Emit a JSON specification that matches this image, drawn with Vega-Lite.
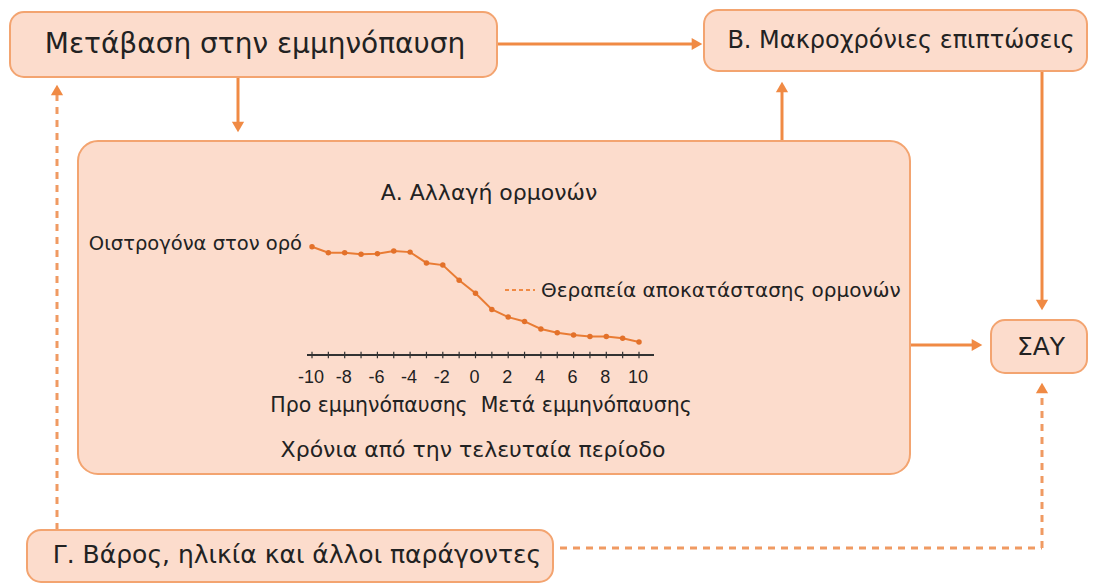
{
  "$schema": "https://vega.github.io/schema/vega-lite/v6.json",
  "width": 1094,
  "height": 586,
  "autosize": {"type": "none"},
  "padding": 0,
  "background": "white",
  "config": {"view": {"stroke": null}, "font": "DejaVu Sans", "text": {"font": "DejaVu Sans", "color": "#222222"}},
  "datasets": {
    "boxes": [
      {"name": "transition", "x1": 10, "x2": 497, "y1": 12, "y2": 77},
      {"name": "longterm", "x1": 704, "x2": 1087, "y1": 10, "y2": 71},
      {"name": "cvd", "x1": 991, "x2": 1087, "y1": 320, "y2": 373},
      {"name": "factors", "x1": 27, "x2": 553, "y1": 530, "y2": 582}
    ],
    "bigbox": [
      {"name": "hormones", "x1": 78, "x2": 910, "y1": 141, "y2": 474}
    ],
    "solidLinks": [
      {"from": "transition", "to": "longterm", "x1": 497, "y1": 44, "x2": 692, "y2": 44},
      {"from": "transition", "to": "hormones", "x1": 238, "y1": 77, "x2": 238, "y2": 122},
      {"from": "hormones", "to": "longterm", "x1": 782, "y1": 141, "x2": 782, "y2": 92},
      {"from": "longterm", "to": "cvd", "x1": 1042, "y1": 71, "x2": 1042, "y2": 300},
      {"from": "hormones", "to": "cvd", "x1": 910, "y1": 345, "x2": 972, "y2": 345}
    ],
    "dashedLinks": [
      {"from": "factors", "to": "transition", "x1": 57, "y1": 530, "x2": 57, "y2": 95},
      {"from": "factors", "to": "cvd", "x1": 560, "y1": 548, "x2": 1042, "y2": 548},
      {"from": "factors", "to": "cvd", "x1": 1042, "y1": 548, "x2": 1042, "y2": 393}
    ],
    "heads": [
      {"to": "longterm", "x": 697, "y": 44, "dir": "right"},
      {"to": "hormones", "x": 238, "y": 127, "dir": "down"},
      {"to": "longterm", "x": 782, "y": 87, "dir": "up"},
      {"to": "cvd", "x": 1042, "y": 305, "dir": "down"},
      {"to": "cvd", "x": 977, "y": 345, "dir": "right"},
      {"to": "transition", "x": 57, "y": 90, "dir": "up"},
      {"to": "cvd", "x": 1042, "y": 388, "dir": "up"}
    ],
    "estrogen": [
      {"year": -10, "level": 100},
      {"year": -9, "level": 94.5},
      {"year": -8, "level": 94.5},
      {"year": -7, "level": 93},
      {"year": -6, "level": 93.5},
      {"year": -5, "level": 96},
      {"year": -4, "level": 95},
      {"year": -3, "level": 85},
      {"year": -2, "level": 83},
      {"year": -1, "level": 69},
      {"year": 0, "level": 57},
      {"year": 1, "level": 42},
      {"year": 2, "level": 35},
      {"year": 3, "level": 31},
      {"year": 4, "level": 24},
      {"year": 5, "level": 20.5},
      {"year": 6, "level": 18.5},
      {"year": 7, "level": 17},
      {"year": 8, "level": 17},
      {"year": 9, "level": 15.5},
      {"year": 10, "level": 12}
    ]
  },
  "layer": [
    {
      "layer": [
        {
          "data": {"name": "solidLinks"},
          "mark": {"type": "rule", "color": "#f08a44", "strokeWidth": 3},
          "encoding": {
            "x": {"field": "x1", "type": "quantitative", "scale": {"domain": [0, 1094], "nice": false, "zero": false}, "axis": null},
            "x2": {"field": "x2"},
            "y": {"field": "y1", "type": "quantitative", "scale": {"domain": [0, 586], "nice": false, "zero": false, "reverse": true}, "axis": null},
            "y2": {"field": "y2"}
          }
        },
        {
          "data": {"name": "dashedLinks"},
          "mark": {"type": "rule", "color": "#f09a62", "strokeWidth": 3, "strokeDash": [7, 6]},
          "encoding": {
            "x": {"field": "x1", "type": "quantitative"},
            "x2": {"field": "x2"},
            "y": {"field": "y1", "type": "quantitative"},
            "y2": {"field": "y2"}
          }
        },
        {
          "data": {"name": "heads"},
          "mark": {"type": "point", "filled": true, "color": "#f08a44", "opacity": 1, "size": 150},
          "encoding": {
            "x": {"field": "x", "type": "quantitative"},
            "y": {"field": "y", "type": "quantitative"},
            "shape": {"field": "dir", "type": "nominal", "scale": {"domain": ["up", "down", "right"], "range": ["triangle-up", "triangle-down", "triangle-right"]}, "legend": null}
          }
        },
        {
          "data": {"name": "boxes"},
          "mark": {"type": "rect", "fill": "#fcdccc", "stroke": "#f3a470", "strokeWidth": 2, "cornerRadius": 14},
          "encoding": {
            "x": {"field": "x1", "type": "quantitative"},
            "x2": {"field": "x2"},
            "y": {"field": "y1", "type": "quantitative"},
            "y2": {"field": "y2"}
          }
        },
        {
          "data": {"name": "bigbox"},
          "mark": {"type": "rect", "fill": "#fcdccc", "stroke": "#f3a470", "strokeWidth": 2, "cornerRadius": 20},
          "encoding": {
            "x": {"field": "x1", "type": "quantitative"},
            "x2": {"field": "x2"},
            "y": {"field": "y1", "type": "quantitative"},
            "y2": {"field": "y2"}
          }
        },
        {
          "data": {"values": [{"x1": 505, "x2": 535, "y": 290}]},
          "mark": {"type": "rule", "color": "#f08a44", "strokeWidth": 2, "strokeDash": [4, 3]},
          "encoding": {
            "x": {"field": "x1", "type": "quantitative"},
            "x2": {"field": "x2"},
            "y": {"field": "y", "type": "quantitative"}
          }
        },
        {
          "data": {"values": [
            {"cx": 255, "cy": 45, "label": "Μετάβαση στην εμμηνόπαυση"}
          ]},
          "mark": {"type": "text", "fontSize": 28, "align": "center", "baseline": "middle"},
          "encoding": {"x": {"field": "cx", "type": "quantitative"}, "y": {"field": "cy", "type": "quantitative"}, "text": {"field": "label"}}
        },
        {
          "data": {"values": [
            {"cx": 901, "cy": 41, "label": "Β. Μακροχρόνιες επιπτώσεις"}
          ]},
          "mark": {"type": "text", "fontSize": 24, "align": "center", "baseline": "middle"},
          "encoding": {"x": {"field": "cx", "type": "quantitative"}, "y": {"field": "cy", "type": "quantitative"}, "text": {"field": "label"}}
        },
        {
          "data": {"values": [
            {"cx": 297, "cy": 555, "label": "Γ. Βάρος, ηλικία και άλλοι παράγοντες"}
          ]},
          "mark": {"type": "text", "fontSize": 25, "align": "center", "baseline": "middle"},
          "encoding": {"x": {"field": "cx", "type": "quantitative"}, "y": {"field": "cy", "type": "quantitative"}, "text": {"field": "label"}}
        },
        {
          "data": {"values": [
            {"cx": 1041, "cy": 347, "label": "ΣΑΥ"}
          ]},
          "mark": {"type": "text", "fontSize": 25, "align": "center", "baseline": "middle"},
          "encoding": {"x": {"field": "cx", "type": "quantitative"}, "y": {"field": "cy", "type": "quantitative"}, "text": {"field": "label"}}
        },
        {
          "data": {"values": [
            {"cx": 489, "cy": 193, "label": "Α. Αλλαγή ορμονών"}
          ]},
          "mark": {"type": "text", "fontSize": 22, "align": "center", "baseline": "middle"},
          "encoding": {"x": {"field": "cx", "type": "quantitative"}, "y": {"field": "cy", "type": "quantitative"}, "text": {"field": "label"}}
        },
        {
          "data": {"values": [
            {"cx": 481, "cy": 406, "label": "Προ εμμηνόπαυσης\u00a0\u00a0Μετά εμμηνόπαυσης"}
          ]},
          "mark": {"type": "text", "fontSize": 20.5, "align": "center", "baseline": "middle"},
          "encoding": {"x": {"field": "cx", "type": "quantitative"}, "y": {"field": "cy", "type": "quantitative"}, "text": {"field": "label"}}
        },
        {
          "data": {"values": [
            {"cx": 473, "cy": 450, "label": "Χρόνια από την τελευταία περίοδο"}
          ]},
          "mark": {"type": "text", "fontSize": 22, "align": "center", "baseline": "middle"},
          "encoding": {"x": {"field": "cx", "type": "quantitative"}, "y": {"field": "cy", "type": "quantitative"}, "text": {"field": "label"}}
        },
        {
          "data": {"values": [
            {"cx": 302, "cy": 244, "label": "Οιστρογόνα στον ορό"}
          ]},
          "mark": {"type": "text", "fontSize": 19.5, "align": "right", "baseline": "middle"},
          "encoding": {"x": {"field": "cx", "type": "quantitative"}, "y": {"field": "cy", "type": "quantitative"}, "text": {"field": "label"}}
        },
        {
          "data": {"values": [
            {"cx": 541, "cy": 291, "label": "Θεραπεία αποκατάστασης ορμονών"}
          ]},
          "mark": {"type": "text", "fontSize": 20, "align": "left", "baseline": "middle"},
          "encoding": {"x": {"field": "cx", "type": "quantitative"}, "y": {"field": "cy", "type": "quantitative"}, "text": {"field": "label"}}
        }
      ]
    },
    {
      "data": {"name": "estrogen"},
      "layer": [
        {
          "mark": {"type": "rule", "color": "#333333", "strokeWidth": 1.5},
          "encoding": {
            "x": {"datum": -10.3, "type": "quantitative", "scale": {"domain": [-29.083, 37.829], "nice": false, "zero": false}, "axis": null},
            "x2": {"datum": 10.9},
            "y": {"datum": 0, "type": "quantitative", "scale": {"domain": [-213.3, 327.8], "nice": false, "zero": false}, "axis": null}
          }
        },
        {
          "mark": {"type": "rule", "color": "#333333", "strokeWidth": 1.2},
          "encoding": {
            "x": {"field": "year", "type": "quantitative"},
            "y": {"datum": -3, "type": "quantitative"},
            "y2": {"datum": 3}
          }
        },
        {
          "transform": [{"filter": "datum.year % 2 == 0"}],
          "mark": {"type": "text", "font": "Liberation Sans", "fontSize": 18, "align": "center", "baseline": "middle", "dx": -1},
          "encoding": {
            "x": {"field": "year", "type": "quantitative"},
            "y": {"datum": -21.5, "type": "quantitative"},
            "text": {"field": "year", "type": "nominal"}
          }
        },
        {
          "mark": {"type": "line", "color": "#e97c34", "strokeWidth": 2},
          "encoding": {
            "x": {"field": "year", "type": "quantitative"},
            "y": {"field": "level", "type": "quantitative"}
          }
        },
        {
          "mark": {"type": "point", "filled": true, "color": "#e3712a", "opacity": 1, "size": 30},
          "encoding": {
            "x": {"field": "year", "type": "quantitative"},
            "y": {"field": "level", "type": "quantitative"}
          }
        }
      ]
    }
  ],
  "resolve": {"scale": {"x": "independent", "y": "independent", "shape": "independent"}}
}
